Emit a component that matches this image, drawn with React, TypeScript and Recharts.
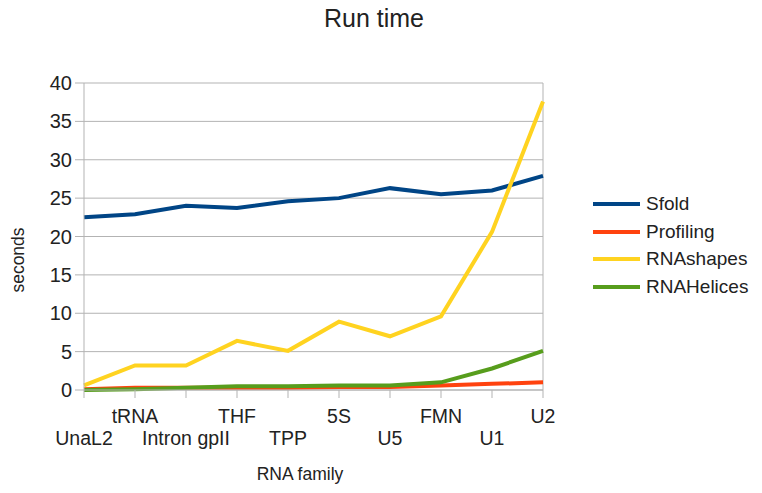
import { LineChart, Line, XAxis, YAxis, CartesianGrid, ReferenceLine } from 'recharts';

const families = ['UnaL2', 'tRNA', 'Intron gpII', 'THF', 'TPP', '5S', 'U5', 'FMN', 'U1', 'U2'];
const sfold = [22.5, 22.9, 24.0, 23.7, 24.6, 25.0, 26.3, 25.5, 26.0, 27.9];
const profiling = [0.1, 0.3, 0.3, 0.3, 0.3, 0.4, 0.4, 0.6, 0.8, 1.0];
const rnashapes = [0.6, 3.2, 3.2, 6.4, 5.1, 8.9, 7.0, 9.6, 20.6, 37.6];
const rnahelices = [0.0, 0.1, 0.3, 0.5, 0.5, 0.6, 0.6, 1.0, 2.8, 5.1];
const yTicks = [0, 5, 10, 15, 20, 25, 30, 35, 40];

const series = [
  { key: 'sfold', name: 'Sfold', color: '#004586' },
  { key: 'profiling', name: 'Profiling', color: '#ff420e' },
  { key: 'rnashapes', name: 'RNAshapes', color: '#ffd320' },
  { key: 'rnahelices', name: 'RNAHelices', color: '#579d1c' },
];

const data = families.map((family, i) => ({
  family,
  sfold: sfold[i],
  profiling: profiling[i],
  rnashapes: rnashapes[i],
  rnahelices: rnahelices[i],
}));

const font = '"Liberation Sans", Arial, sans-serif';
const ink = '#222';
const gridColor = '#b3b3b3';

function FamilyTick({ x, y, payload, index }: any) {
  const upper = index % 2 === 1;
  return (
    <text x={x} y={y + (upper ? 23 : 45)} textAnchor="middle" fill={ink} fontSize={19.5} fontFamily={font}>
      {payload.value}
    </text>
  );
}

function LegendBox() {
  return (
    <div style={{ position: 'absolute', left: 593, top: 190.5, fontFamily: font, fontSize: 19, color: ink }}>
      {series.map((s) => (
        <div key={s.key} style={{ display: 'flex', alignItems: 'center', height: 27.5 }}>
          <span style={{ display: 'inline-block', width: 47, height: 4, background: s.color, marginRight: 6 }} />
          {s.name}
        </div>
      ))}
    </div>
  );
}

export default function App() {
  return (
    <div style={{ position: 'absolute', left: 0, top: 0, width: 762, height: 493, background: '#fff' }}>
      <LineChart width={762} height={493} data={data} margin={{ top: 83, right: 219, bottom: 0, left: 0 }}>
        <CartesianGrid vertical={false} stroke={gridColor} />
        <ReferenceLine x="U2" stroke={gridColor} />
        <XAxis
          dataKey="family"
          interval={0}
          height={103}
          tick={<FamilyTick />}
          tickSize={8}
          axisLine={{ stroke: gridColor }}
          tickLine={{ stroke: gridColor }}
        />
        <YAxis
          width={84}
          domain={[0, 40]}
          ticks={yTicks}
          tickSize={9}
          tickMargin={3}
          axisLine={{ stroke: gridColor }}
          tickLine={{ stroke: gridColor }}
          tick={{ fill: ink, fontSize: 20, fontFamily: font }}
        />
        {series.map((s) => (
          <Line
            key={s.key}
            type="linear"
            dataKey={s.key}
            name={s.name}
            stroke={s.color}
            strokeWidth={4}
            dot={false}
            isAnimationActive={false}
          />
        ))}
      </LineChart>
      <div
        style={{
          position: 'absolute',
          left: 374,
          top: 18,
          transform: 'translate(-50%, -50%)',
          fontFamily: font,
          fontSize: 25,
          color: ink,
          whiteSpace: 'nowrap',
        }}
      >
        Run time
      </div>
      <div
        style={{
          position: 'absolute',
          left: 18,
          top: 260,
          transform: 'translate(-50%, -50%) rotate(-90deg)',
          fontFamily: font,
          fontSize: 17.5,
          color: ink,
          whiteSpace: 'nowrap',
        }}
      >
        seconds
      </div>
      <div
        style={{
          position: 'absolute',
          left: 300,
          top: 474,
          transform: 'translate(-50%, -50%)',
          fontFamily: font,
          fontSize: 17.5,
          color: ink,
          whiteSpace: 'nowrap',
        }}
      >
        RNA family
      </div>
      <LegendBox />
    </div>
  );
}
